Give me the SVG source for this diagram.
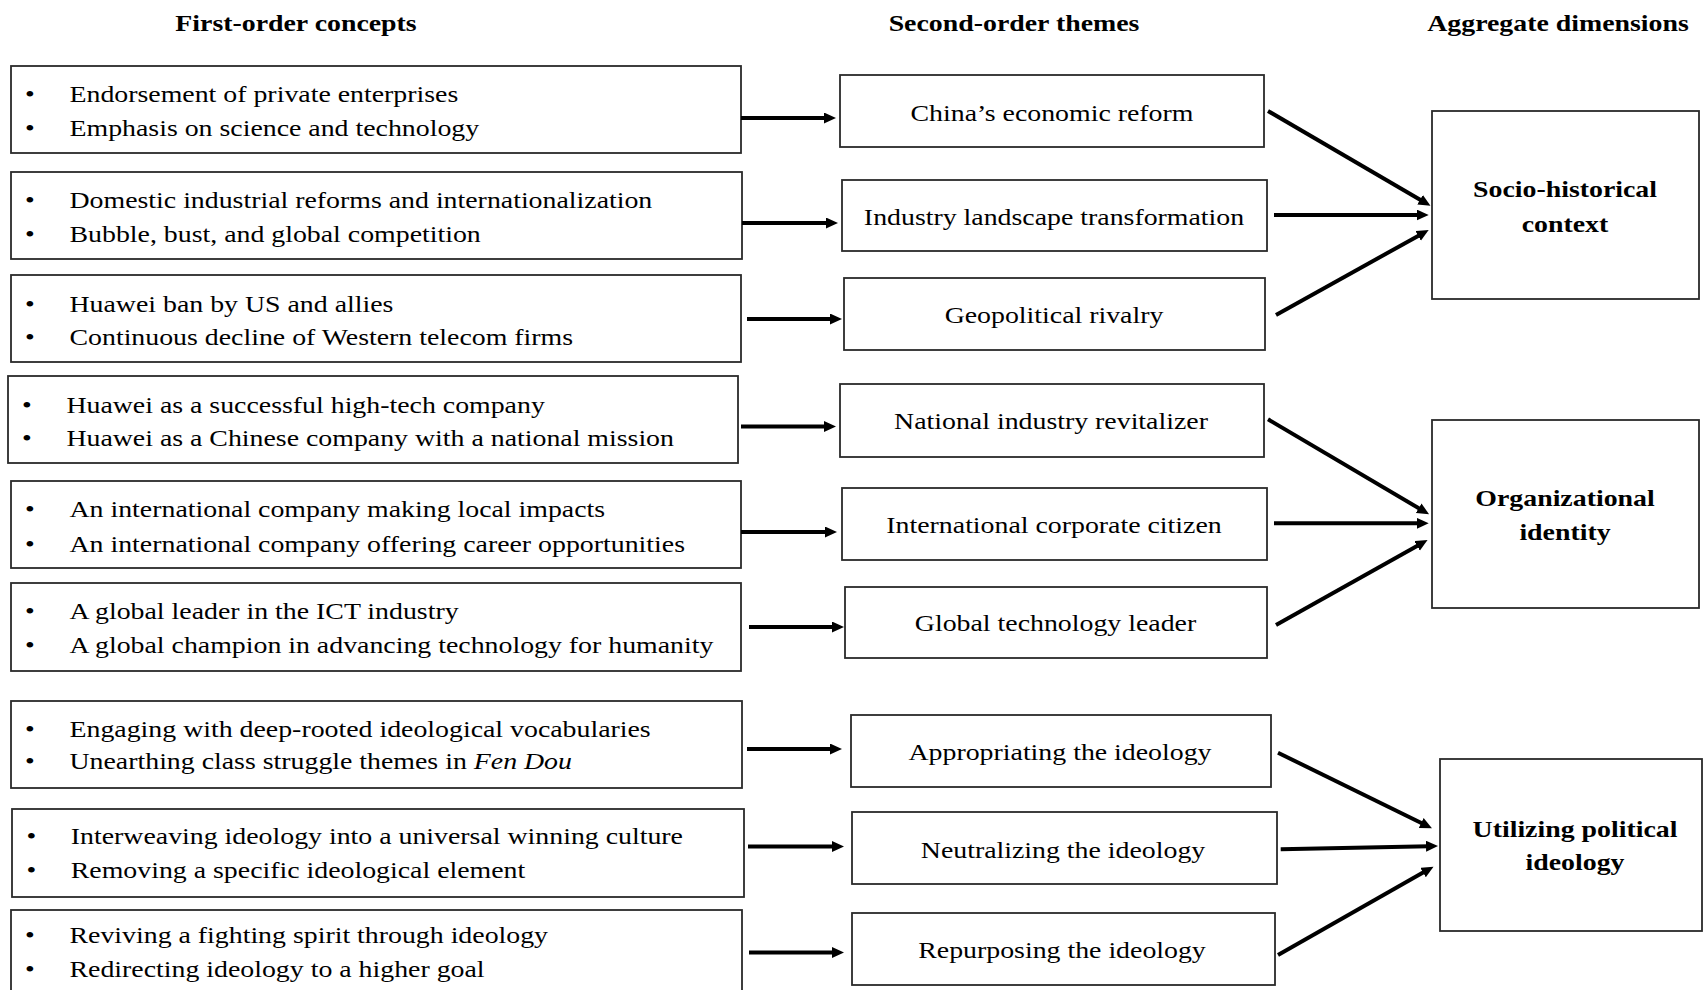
<svg xmlns="http://www.w3.org/2000/svg" width="1703" height="990" viewBox="0 0 1703 990">
<defs>
<style>
text{font-family:"Liberation Serif","Times New Roman",serif;font-size:24px;fill:#000}
.h{font-weight:bold;text-anchor:middle}
.c{text-anchor:middle}
rect{fill:#fff;stroke:#2a2a2a;stroke-width:1.8}
.cn line{stroke:#000;stroke-width:4;marker-end:url(#ah)}
</style>
<marker id="ah" markerUnits="userSpaceOnUse" markerWidth="13" markerHeight="12" refX="3" refY="5.5" orient="auto">
<path d="M0,0 L12,5.5 L0,11 z" fill="#000"/>
</marker>
</defs>
<rect x="0" y="0" width="1703" height="990" style="stroke:none;fill:#fff"/>
<g id="headers">
<text class="h" transform="translate(296,30.7) scale(1.16,1)">First-order concepts</text>
<text class="h" transform="translate(1014,30.7) scale(1.16,1)">Second-order themes</text>
<text class="h" transform="translate(1558,30.7) scale(1.16,1)">Aggregate dimensions</text>
</g>
<g id="c1">
<rect x="11" y="66" width="730" height="87"/>
<text transform="translate(25,101.7) scale(1.16,1)">•</text>
<text transform="translate(69.5,101.7) scale(1.16,1)">Endorsement of private enterprises</text>
<text transform="translate(25,136) scale(1.16,1)">•</text>
<text transform="translate(69.5,136) scale(1.16,1)">Emphasis on science and technology</text>
</g>
<g id="c2">
<rect x="11" y="172" width="731" height="87"/>
<text transform="translate(25,208.3) scale(1.16,1)">•</text>
<text transform="translate(69.5,208.3) scale(1.16,1)">Domestic industrial reforms and internationalization</text>
<text transform="translate(25,241.7) scale(1.16,1)">•</text>
<text transform="translate(69.5,241.7) scale(1.16,1)">Bubble, bust, and global competition</text>
</g>
<g id="c3">
<rect x="11" y="275" width="730" height="87"/>
<text transform="translate(25,311.7) scale(1.16,1)">•</text>
<text transform="translate(69.5,311.7) scale(1.16,1)">Huawei ban by US and allies</text>
<text transform="translate(25,345) scale(1.16,1)">•</text>
<text transform="translate(69.5,345) scale(1.16,1)">Continuous decline of Western telecom firms</text>
</g>
<g id="c4">
<rect x="8" y="376" width="730" height="87"/>
<text transform="translate(22,412.7) scale(1.16,1)">•</text>
<text transform="translate(66.4,412.7) scale(1.16,1)">Huawei as a successful high-tech company</text>
<text transform="translate(22,446) scale(1.16,1)">•</text>
<text transform="translate(66.4,446) scale(1.16,1)">Huawei as a Chinese company with a national mission</text>
</g>
<g id="c5">
<rect x="11" y="481" width="730" height="87"/>
<text transform="translate(25,517.3) scale(1.16,1)">•</text>
<text transform="translate(69.5,517.3) scale(1.16,1)">An international company making local impacts</text>
<text transform="translate(25,551.7) scale(1.16,1)">•</text>
<text transform="translate(69.5,551.7) scale(1.16,1)">An international company offering career opportunities</text>
</g>
<g id="c6">
<rect x="11" y="583" width="730" height="88"/>
<text transform="translate(25,619.3) scale(1.16,1)">•</text>
<text transform="translate(69.5,619.3) scale(1.16,1)">A global leader in the ICT industry</text>
<text transform="translate(25,653) scale(1.16,1)">•</text>
<text transform="translate(69.5,653) scale(1.16,1)">A global champion in advancing technology for humanity</text>
</g>
<g id="c7">
<rect x="11" y="701" width="731" height="87"/>
<text transform="translate(25,736.7) scale(1.16,1)">•</text>
<text transform="translate(69.5,736.7) scale(1.16,1)">Engaging with deep-rooted ideological vocabularies</text>
<text transform="translate(25,769.3) scale(1.16,1)">•</text>
<text transform="translate(69.5,769.3) scale(1.16,1)">Unearthing class struggle themes in <tspan font-style="italic">Fen Dou</tspan></text>
</g>
<g id="c8">
<rect x="12" y="809" width="732" height="88"/>
<text transform="translate(26.5,844) scale(1.16,1)">•</text>
<text transform="translate(70.8,844) scale(1.16,1)">Interweaving ideology into a universal winning culture</text>
<text transform="translate(26.5,878.3) scale(1.16,1)">•</text>
<text transform="translate(70.8,878.3) scale(1.16,1)">Removing a specific ideological element</text>
</g>
<g id="c9">
<rect x="11" y="910" width="731" height="92"/>
<text transform="translate(25,943.3) scale(1.16,1)">•</text>
<text transform="translate(69.5,943.3) scale(1.16,1)">Reviving a fighting spirit through ideology</text>
<text transform="translate(25,977.3) scale(1.16,1)">•</text>
<text transform="translate(69.5,977.3) scale(1.16,1)">Redirecting ideology to a higher goal</text>
</g>
<g id="t1"><rect x="840" y="75" width="424" height="72"/><text class="c" transform="translate(1052,120.7) scale(1.16,1)">China’s economic reform</text></g>
<g id="t2"><rect x="842" y="180" width="425" height="71"/><text class="c" transform="translate(1054,225) scale(1.16,1)">Industry landscape transformation</text></g>
<g id="t3"><rect x="844" y="278" width="421" height="72"/><text class="c" transform="translate(1054,322.7) scale(1.16,1)">Geopolitical rivalry</text></g>
<g id="t4"><rect x="840" y="384" width="424" height="73"/><text class="c" transform="translate(1051,429) scale(1.16,1)">National industry revitalizer</text></g>
<g id="t5"><rect x="842" y="488" width="425" height="72"/><text class="c" transform="translate(1054,533.3) scale(1.16,1)">International corporate citizen</text></g>
<g id="t6"><rect x="845" y="587" width="422" height="71"/><text class="c" transform="translate(1055.5,630.7) scale(1.16,1)">Global technology leader</text></g>
<g id="t7"><rect x="851" y="715" width="420" height="72"/><text class="c" transform="translate(1060,760) scale(1.16,1)">Appropriating the ideology</text></g>
<g id="t8"><rect x="852" y="812" width="425" height="72"/><text class="c" transform="translate(1063,858.3) scale(1.16,1)">Neutralizing the ideology</text></g>
<g id="t9"><rect x="852" y="913" width="423" height="72"/><text class="c" transform="translate(1062,958.3) scale(1.16,1)">Repurposing the ideology</text></g>
<g id="a1"><rect x="1432" y="111" width="267" height="188"/>
<text class="h" transform="translate(1565,196.7) scale(1.16,1)">Socio-historical</text>
<text class="h" transform="translate(1565,231.7) scale(1.16,1)">context</text></g>
<g id="a2"><rect x="1432" y="420" width="267" height="188"/>
<text class="h" transform="translate(1565,506) scale(1.16,1)">Organizational</text>
<text class="h" transform="translate(1565,540) scale(1.16,1)">identity</text></g>
<g id="a3"><rect x="1440" y="759" width="262" height="172"/>
<text class="h" transform="translate(1575,837.3) scale(1.16,1)">Utilizing political</text>
<text class="h" transform="translate(1575,870) scale(1.16,1)">ideology</text></g>
<g id="connectors" class="cn">
<line x1="741" y1="118" x2="827" y2="118"/>
<line x1="742" y1="223" x2="829" y2="223"/>
<line x1="747" y1="319" x2="833" y2="319"/>
<line x1="741" y1="426.5" x2="827" y2="426.5"/>
<line x1="741" y1="532" x2="828" y2="532"/>
<line x1="749" y1="627" x2="835" y2="627"/>
<line x1="747" y1="749" x2="833" y2="749"/>
<line x1="748" y1="846.5" x2="835" y2="846.5"/>
<line x1="749" y1="952.5" x2="835" y2="952.5"/>
<line x1="1268" y1="111" x2="1422.7" y2="201.2"/>
<line x1="1274" y1="215" x2="1419.7" y2="215"/>
<line x1="1276" y1="315" x2="1420.8" y2="234.4"/>
<line x1="1268" y1="419.3" x2="1421.3" y2="509.7"/>
<line x1="1274" y1="523.3" x2="1419.7" y2="523.3"/>
<line x1="1276" y1="625" x2="1419.7" y2="544.4"/>
<line x1="1278" y1="752.7" x2="1423.9" y2="824.3"/>
<line x1="1280.7" y1="849.3" x2="1429" y2="846.2"/>
<line x1="1278" y1="955" x2="1425.7" y2="871.1"/>
</g>
</svg>
